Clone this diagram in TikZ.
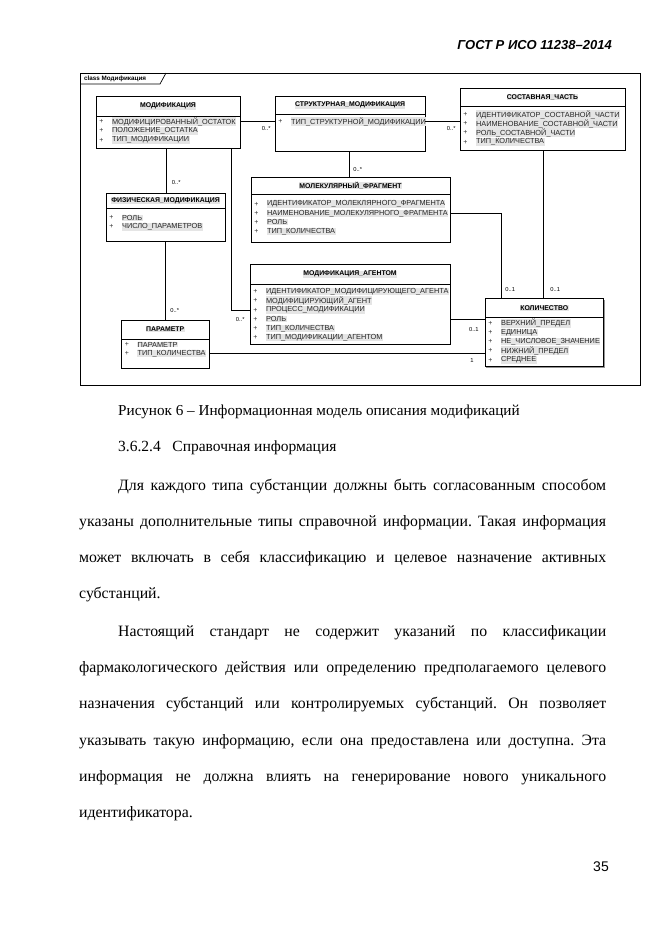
\documentclass[tikz,border=0pt]{standalone}
\usepackage{fontspec}
\setmainfont{Liberation Serif}
\setsansfont{Liberation Sans}
\usetikzlibrary{shadows}
\frenchspacing
\newcommand{\classbox}[7]{
    \node[classframe, minimum width={#4-#2}, minimum height={#5-#3}] (#1) at ({(#2+#4)/2},{(#3+#5)/2}) {};
    \draw[line width=0.6pt] (#2,#6)--(#4,#6);
    \node[classname] (#1-name) at ({(#2+#4)/2},{(#3+#6)/2}) {#7};
}
\newcommand{\attrlist}[4]{
    \foreach \a [count=\i] in {#4}{
    \node[bullet] (#1-b\i) at ({#2+5.5},{#3+9.2*(\i-1)}) {+};
    \node[attr] (#1-\i) at ({#2+15.5},{#3+9.2*(\i-1)}) {\a};
    }
}
\newcommand{\bodyline}[5]{\node[body] (#1) at (#2,#3) {\makebox[#4pt][s]{#5}};}

\begin{document}
\begin{tikzpicture}[x=1pt,y=-1pt,
    classframe/.style={draw, line width=0.9pt, fill=white, inner sep=0pt,
      drop shadow={shadow xshift=1pt, shadow yshift=-1pt, fill=black!60, opacity=0.7}},
    classname/.style={font=\sffamily\bfseries\fontsize{6.9}{7}\selectfont, inner sep=0.4pt, fill=black!10},
    attr/.style={anchor=west, font=\sffamily\fontsize{7.35}{8}\selectfont, inner sep=0.4pt, fill=black!10, text=black!85},
    bullet/.style={font=\sffamily\fontsize{7}{8}\selectfont, inner sep=0pt, text=black!80},
    mult/.style={font=\sffamily\fontsize{5.8}{7}\selectfont, inner sep=0.5pt},
    assoc/.style={line width=0.7pt},
    body/.style={anchor=mid west, inner sep=0pt, font=\fontsize{15.8}{19}\selectfont}]
\useasboundingbox (0,0) rectangle (661,935);
\node[anchor=east, inner sep=0pt, font=\sffamily\bfseries\itshape\fontsize{13}{15}\selectfont] (head) at (612,45) {ГОСТ Р ИСО 11238–2014};
% frame
\draw[line width=0.7pt] (80.5,73) rectangle (640,385);
\draw[line width=0.7pt] (80.5,84)--(160,84)--(166,73);
\node[anchor=west, inner sep=0pt, font=\sffamily\bfseries\fontsize{6.3}{7}\selectfont] (frame) at (84,79) {class Модификация};
% classes
\classbox{mod}{96}{96}{240}{148}{116}{МОДИФИКАЦИЯ}
\attrlist{mod}{96}{121.7}{МОДИФИЦИРОВАННЫЙ\_ОСТАТОК,ПОЛОЖЕНИЕ\_ОСТАТКА,ТИП\_МОДИФИКАЦИИ}
\classbox{strm}{275}{96}{425}{151}{114}{СТРУКТУРНАЯ\_МОДИФИКАЦИЯ}
\attrlist{strm}{275}{121.7}{ТИП\_СТРУКТУРНОЙ\_МОДИФИКАЦИИ}
\classbox{part}{460}{88}{625}{150}{106.5}{СОСТАВНАЯ\_ЧАСТЬ}
\attrlist{part}{460}{114.5}{ИДЕНТИФИКАТОР\_СОСТАВНОЙ\_ЧАСТИ,НАИМЕНОВАНИЕ\_СОСТАВНОЙ\_ЧАСТИ,РОЛЬ\_СОСТАВНОЙ\_ЧАСТИ,ТИП\_КОЛИЧЕСТВА}
\classbox{phys}{106}{193}{225}{241}{208.5}{ФИЗИЧЕСКАЯ\_МОДИФИКАЦИЯ}
\attrlist{phys}{106}{217.7}{РОЛЬ,ЧИСЛО\_ПАРАМЕТРОВ}
\classbox{mol}{251}{177}{450}{242}{194}{МОЛЕКУЛЯРНЫЙ\_ФРАГМЕНТ}
\attrlist{mol}{251}{204}{ИДЕНТИФИКАТОР\_МОЛЕКЛЯРНОГО\_ФРАГМЕНТА,НАИМЕНОВАНИЕ\_МОЛЕКУЛЯРНОГО\_ФРАГМЕНТА,РОЛЬ,ТИП\_КОЛИЧЕСТВА}
\classbox{agent}{250}{264}{450}{344}{284}{МОДИФИКАЦИЯ\_АГЕНТОМ}
\attrlist{agent}{250}{291.7}{ИДЕНТИФИКАТОР\_МОДИФИЦИРУЮЩЕГО\_АГЕНТА,МОДИФИЦИРУЮЩИЙ\_АГЕНТ,ПРОЦЕСС\_МОДИФИКАЦИИ,РОЛЬ,ТИП\_КОЛИЧЕСТВА,ТИП\_МОДИФИКАЦИИ\_АГЕНТОМ}
\classbox{param}{121.5}{320}{209}{368}{339}{ПАРАМЕТР}
\attrlist{param}{121.5}{344.5}{ПАРАМЕТР,ТИП\_КОЛИЧЕСТВА}
\classbox{qty}{485}{298.5}{603.5}{366.5}{317.7}{КОЛИЧЕСТВО}
\attrlist{qty}{485}{323.3}{ВЕРХНИЙ\_ПРЕДЕЛ,ЕДИНИЦА,НЕ\_ЧИСЛОВОЕ\_ЗНАЧЕНИЕ,НИЖНИЙ\_ПРЕДЕЛ,СРЕДНЕЕ}
% associations
\coordinate (modA) at ([xshift=70.5]mod.south west);
\coordinate (modB) at ([xshift=135.7]mod.south west);
\coordinate (strA) at ([xshift=75]strm.south west);
\coordinate (physA) at ([xshift=59.7]phys.south west);
\coordinate (qtyA) at ([xshift=16.7]qty.north west);
\coordinate (qtyB) at ([xshift=58.3]qty.north west);
\draw[assoc] (mod.east |- mod-1)--(strm.west |- mod-1) node[mult, anchor=north east, xshift=-3pt, yshift=-3.5pt] (m1) {0..*};
\draw[assoc] (strm.east |- strm-1)--(part.west |- strm-1) node[mult, anchor=north east, xshift=-3pt, yshift=-3.5pt] (m2) {0..*};
\draw[assoc] (strA)--(strA |- mol.north) node[mult, anchor=south west, xshift=3pt, yshift=4.5pt] (m3) {0..*};
\draw[assoc] (modA)--(modA |- phys.north) node[mult, anchor=south west, xshift=5pt, yshift=7pt] (m4) {0..*};
\draw[assoc] (modB)--(modB |- agent-3)--(agent.west |- agent-3) node[mult, anchor=north east, xshift=-4pt, yshift=-6pt] (m5) {0..*};
\draw[assoc] (physA)--(physA |- param.north) node[mult, anchor=south west, xshift=4.3pt, yshift=6.5pt] (m6) {0..*};
\draw[assoc] (agent.east |- agent-4)--(qty.west |- agent-4) node[mult, anchor=north east, xshift=-5pt, yshift=-7.5pt] (m7) {0..1};
\draw[assoc] (param.east |- param-2)--(qty.west |- param-2) node[mult, anchor=north east, xshift=-10pt, yshift=-3.5pt] (m8) {1};
\draw[assoc] (mol.east |- mol-2)-|(qtyA) node[mult, anchor=south west, xshift=3.3pt, yshift=6pt] (m9) {0..1};
\draw[assoc] (qtyB |- part.south)--(qtyB) node[mult, anchor=south west, xshift=6.7pt, yshift=6pt] (m10) {0..1};
% text
\node[body, font=\fontsize{15.2}{19}\selectfont] (cap) at (118,413) {Рисунок 6 – Информационная модель описания модификаций};
\node[body, font=\fontsize{15.5}{19}\selectfont] (sec) at (118,449) {3.6.2.4\hspace{0.75em}Справочная информация};
\bodyline{p1a}{118}{488}{488}{Для каждого типа субстанции должны быть согласованным способом}
\bodyline{p1b}{79}{524}{527}{указаны дополнительные типы справочной информации. Такая информация}
\bodyline{p1c}{79}{560}{527}{может включать в себя классификацию и целевое назначение активных}
\node[body] (p1d) at (79,596) {субстанций.};
\bodyline{p2a}{118}{634}{488}{Настоящий стандарт не содержит указаний по классификации}
\bodyline{p2b}{79}{670}{527}{фармакологического действия или определению предполагаемого целевого}
\bodyline{p2c}{79}{706}{527}{назначения субстанций или контролируемых субстанций. Он позволяет}
\bodyline{p2d}{79}{743}{527}{указывать такую информацию, если она предоставлена или доступна. Эта}
\bodyline{p2e}{79}{779}{527}{информация не должна влиять на генерирование нового уникального}
\node[body] (p2f) at (79,815) {идентификатора.};
\node[anchor=east, inner sep=0pt, font=\sffamily\fontsize{14}{16}\selectfont] (page) at (609,867) {35};
\end{tikzpicture}
\end{document}
